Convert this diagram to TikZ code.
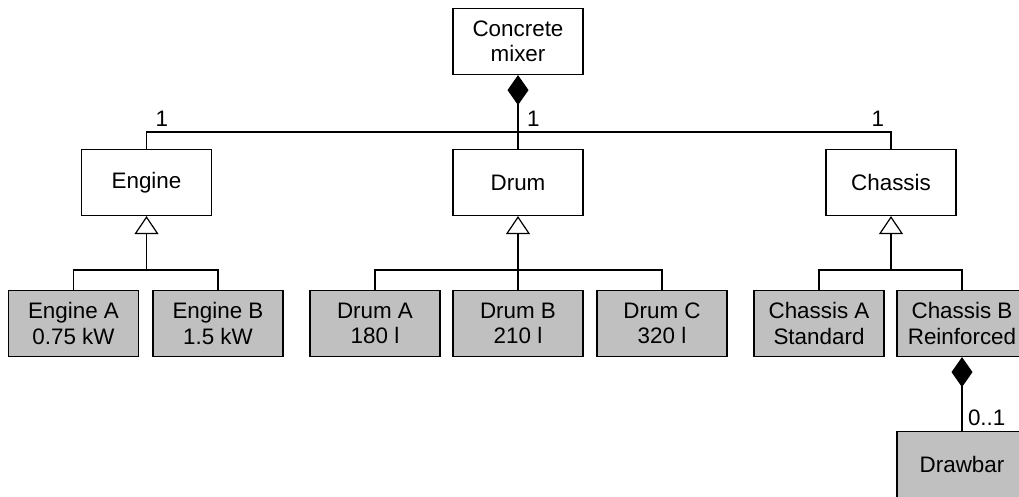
\documentclass[tikz,border=0pt]{standalone}
\usepackage{fontspec}
\setmainfont{Liberation Sans}
\usetikzlibrary{arrows.meta, positioning}

\definecolor{boxgray}{RGB}{192,192,192}

\tikzset{
  plain/.style={draw, line width=1.2pt, minimum width=130pt, minimum height=66pt,
                align=center, inner sep=2pt},
  variant/.style={plain, fill=boxgray},
  mult/.style={inner sep=0pt, outer sep=0pt},
  owns/.style={-{Diamond[width=21pt, length=30pt]}},
  isa/.style={-{Triangle[open, width=24pt, length=18pt]}},
}

\begin{document}
\begin{tikzpicture}[x=1pt, y=1pt, line width=1.2pt, node distance=141pt,
    font=\fontsize{22.4}{25.5}\selectfont]
  \useasboundingbox (0,0) rectangle (1019,-496);

  \node[plain] (mixer) at (518,-41.5) {Concrete\\mixer};
  \node[plain] (drum) [below of=mixer] {Drum};
  \node[plain] (engine) [left of=drum, node distance=371.5pt] {Engine};
  \node[plain] (chassis) [right of=drum, node distance=373pt] {Chassis};

  \node[variant] (engA) [below of=engine, xshift=-73pt] {Engine A\\0.75 kW};
  \node[variant] (engB) [right of=engA, node distance=144.5pt] {Engine B\\1.5 kW};

  \node[variant] (drumB) [below of=drum] {Drum B\\210 l};
  \node[variant] (drumA) [left of=drumB, node distance=143pt] {Drum A\\180 l};
  \node[variant] (drumC) [right of=drumB, node distance=144pt] {Drum C\\320 l};

  \node[variant] (chA) [below of=chassis, xshift=-72pt] {Chassis A\\Standard};
  \node[variant] (chB) [right of=chA, node distance=143pt] {Chassis B\\Reinforced};
  \node[variant] (drawbar) [below of=chB] {Drawbar};

  % composition
  \draw[owns] (drum.north) -- ++(0,17) node[mult, above right=5pt and 9pt] {1}
    -- (mixer.south);
  \draw (engine.north) -- ++(0,17) node[mult, above right=5pt and 9pt] {1}
    -| (chassis.north) node[mult, above left=5pt and 7pt, yshift=17pt] {1};
  \draw[owns] (drawbar.north) node[mult, above right=5pt and 6pt] {0..1}
    -- (chB.south);

  % generalisation
  \draw (engA.north) -- ++(0,20) coordinate (engJ) -| (engB.north);
  \draw[isa] (engine.south |- engJ) -- (engine.south);

  \draw (drumA.north) -- ++(0,20) coordinate (drumJ) -| (drumC.north);
  \draw[isa] (drumB.north) -- (drum.south);

  \draw (chA.north) -- ++(0,20) coordinate (chJ) -| (chB.north);
  \draw[isa] (chassis.south |- chJ) -- (chassis.south);
\end{tikzpicture}
\end{document}
